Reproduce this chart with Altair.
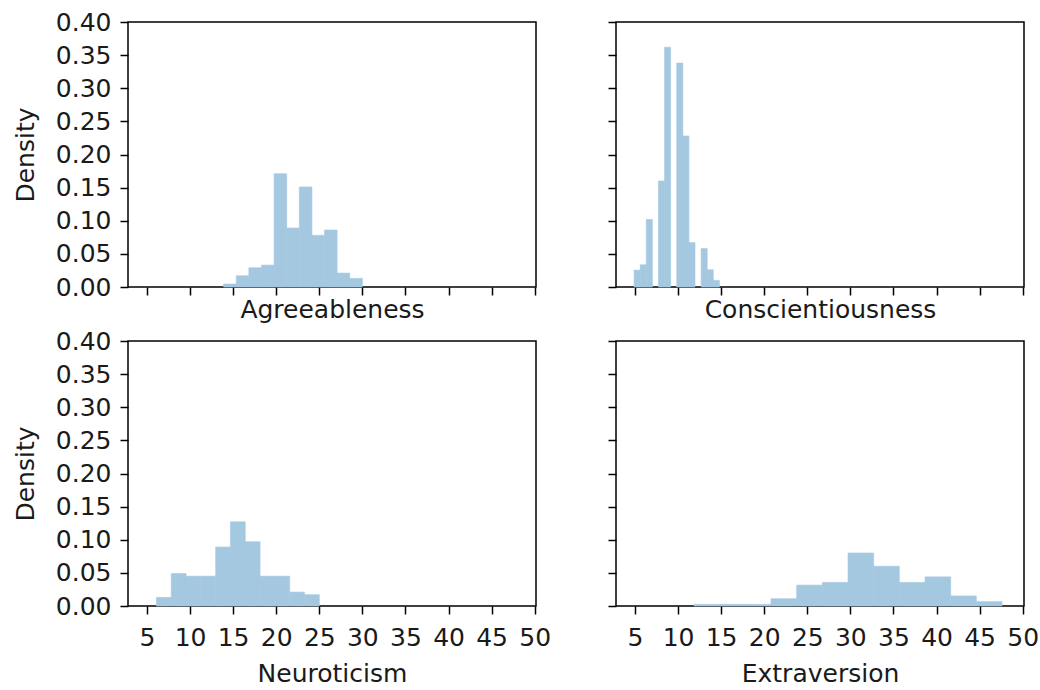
import altair as alt
import numpy as np
import pandas as pd

# ---- data (histogram densities, equal-width bins) ----
agree_range = [13.9, 30.0]
agree_density = [0.0045, 0.017, 0.029, 0.033, 0.171, 0.089, 0.151, 0.078, 0.086, 0.021, 0.013]

consc_range = [4.9, 14.8]
consc_density = [0.0254, 0.0335, 0.102, 0.0, 0.160, 0.362, 0.0, 0.338, 0.228, 0.067, 0.0, 0.058, 0.026, 0.010]

neuro_range = [6.1, 25.0]
neuro_density = [0.013, 0.049, 0.045, 0.045, 0.089, 0.127, 0.097, 0.045, 0.045, 0.021, 0.017]

extra_range = [11.85, 47.6]
extra_density = [0.0025, 0.0025, 0.0025, 0.011, 0.0315, 0.0356, 0.080, 0.060, 0.0356, 0.044, 0.0152, 0.0066]

x_ticks = [5, 10, 15, 20, 25, 30, 35, 40, 45, 50]
y_ticks = [0.0, 0.05, 0.10, 0.15, 0.20, 0.25, 0.30, 0.35, 0.40]

XDOM = [2.8, 50.15]
YDOM = [0.0, 0.4]
W, H = 408, 265
FONT = "DejaVu Sans"
FS = 25
BAR = "#a5c8e1"


def hist_df(rng, dens):
    edges = np.linspace(rng[0], rng[1], len(dens) + 1)
    df = pd.DataFrame({"x0": edges[:-1], "x1": edges[1:], "d": dens})
    df["z"] = 0.0
    return df[df["d"] > 0]


def panel(rng, dens, title, xlabels, ylabels):
    xaxis_kw = dict(values=x_ticks, labels=xlabels, title=title)
    if xlabels:
        xaxis_kw.update(labelPadding=11, titlePadding=11)
    else:
        xaxis_kw.update(titlePadding=2)
    yaxis_kw = dict(values=y_ticks, format=".2f", labels=ylabels,
                    title="Density" if ylabels else "")
    if ylabels:
        yaxis_kw.update(labelPadding=9, titlePadding=17)
    return (
        alt.Chart(hist_df(rng, dens))
        .mark_rect(color=BAR, stroke=BAR, strokeWidth=0.6)
        .encode(
            x=alt.X("x0:Q", scale=alt.Scale(domain=XDOM, nice=False, zero=False),
                    axis=alt.Axis(**xaxis_kw)),
            x2="x1:Q",
            y=alt.Y("d:Q", scale=alt.Scale(domain=YDOM, nice=False),
                    axis=alt.Axis(**yaxis_kw)),
            y2="z:Q",
        )
        .properties(width=W, height=H)
    )


tl = panel(agree_range, agree_density, "Agreeableness", False, True)
tr = panel(consc_range, consc_density, "Conscientiousness", False, False)
bl = panel(neuro_range, neuro_density, "Neuroticism", True, True)
br = panel(extra_range, extra_density, "Extraversion", True, False)

chart = (
    alt.concat(tl, tr, bl, br, columns=2,
               spacing={"row": 54, "column": 80}, bounds="flush")
    .properties(padding={"left": 12, "top": 9, "right": 0, "bottom": 2})
    .configure_view(stroke="black", strokeWidth=1.5)
    .configure_axis(
        domain=False,
        grid=False,
        ticks=True,
        tickColor="black",
        tickWidth=1.5,
        tickSize=8,
        labelFont=FONT,
        labelFontSize=FS,
        labelColor="#1a1a1a",
        titleFont=FONT,
        titleFontSize=FS,
        titleFontWeight="normal",
        titleColor="#1a1a1a",
        labelOverlap=False,
    )
)

chart.save("out.html", embed_options={"renderer": "svg", "actions": False})
